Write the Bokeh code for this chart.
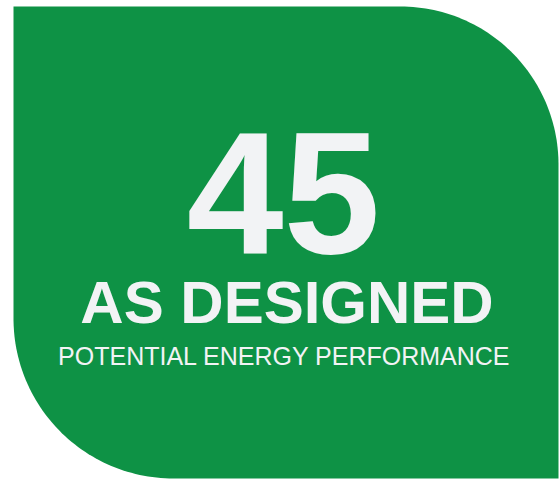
import numpy as np
from bokeh.plotting import figure
from bokeh.models import Range1d, ColumnDataSource
from bokeh.core.properties import value
from bokeh.embed import file_html
from bokeh.resources import INLINE

score = ["45"]
title = ["AS DESIGNED"]
subtitle = ["POTENTIAL ENERGY PERFORMANCE"]

GREEN = "#0E9245"
WHITE = "#F2F3F5"
W, H = 560, 479

p = figure(width=W, height=H, output_backend="svg", toolbar_location=None,
           x_range=Range1d(0, W), y_range=Range1d(0, H), min_border=0)
p.axis.visible = False
p.grid.visible = False
p.outline_line_color = None
p.background_fill_color = "white"
p.border_fill_color = "white"

def Y(y):
    return H - y

left, right, top, bottom = 13, 558, 6, 478
r1, r2 = 158, 160
xs, ys = [left], [top]
c1 = (right - r1, top + r1)
t = np.linspace(np.pi / 2, 0, 60)
xs += list(c1[0] + r1 * np.cos(t))
ys += list(c1[1] - r1 * np.sin(t))
xs += [right, right]
ys += [bottom, bottom]
c2 = (left + r2, bottom - r2)
t = np.linspace(-np.pi / 2, -np.pi, 60)
xs += list(c2[0] + r2 * np.cos(t))
ys += list(c2[1] - r2 * np.sin(t))
xs += [left]
ys += [top]
p.patch(xs, [Y(v) for v in ys], fill_color=GREEN, line_color=None)

src1 = ColumnDataSource(dict(x=[283], y=[Y(192)], t=score))
p.text(x="x", y="y", text="t", source=src1, text_font=value("Liberation Sans"),
       text_font_style="bold", text_font_size="174px", text_color=WHITE,
       text_align="center", text_baseline="alphabetic")
src2 = ColumnDataSource(dict(x=[286.5], y=[Y(301.5)], t=title))
p.text(x="x", y="y", text="t", source=src2, text_font=value("Liberation Sans"),
       text_font_style="bold", text_font_size="60px", text_color=WHITE,
       text_align="center", text_baseline="alphabetic")
src3 = ColumnDataSource(dict(x=[284], y=[Y(355.5)], t=subtitle))
p.text(x="x", y="y", text="t", source=src3, text_font=value("Liberation Sans"),
       text_font_size="25px", text_color=WHITE,
       text_align="center", text_baseline="alphabetic")

open("out.html", "w").write(file_html(p, INLINE))
